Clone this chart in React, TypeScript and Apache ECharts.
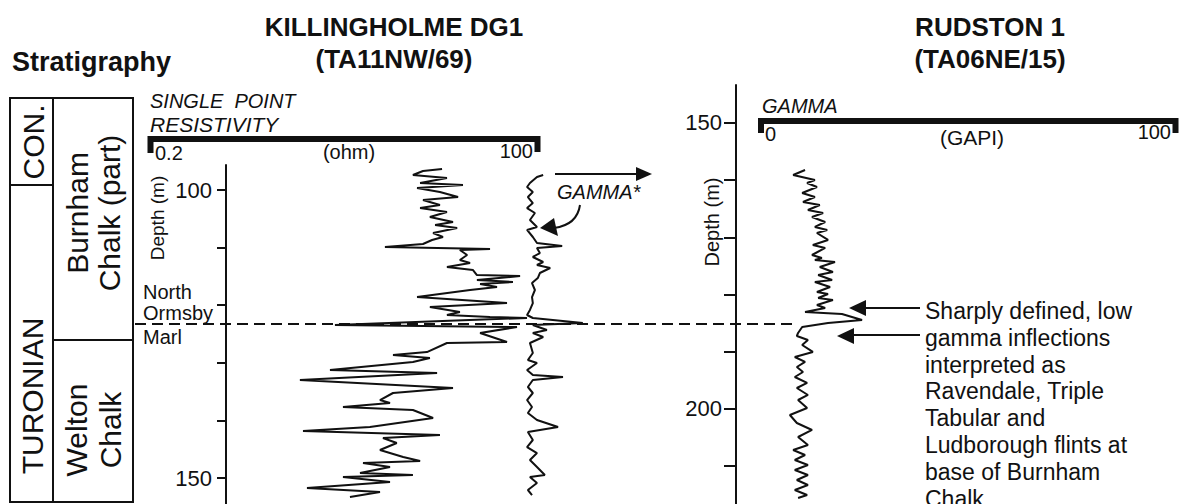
import React, { useEffect, useRef } from "react";
import * as echarts from "echarts";

// ---------- DATA ----------
// Killingholme DG1 single point resistivity (ohm) vs depth (m)
const resOhmK = [21.0, 15.5, 13.2, 22.7, 14.8, 29.3, 14.1, 20.3, 27.1, 15.5, 20.3, 14.8, 22.7, 17.3, 25.0, 18.8, 26.7, 18.2, 21.3, 17.9, 15.5, 8.45, 45.1, 27.9, 31.3, 27.9, 32.8, 22.7, 34.4, 36.6, 72.8, 36.6, 65.0, 38.5, 50.4, 32.8, 14.1, 59.1, 17.3, 27.9, 22.7, 45.1, 81.3, 3.81, 69.3, 38.5, 59.1, 22.7, 16.5, 9.61, 17.3, 13.2, 3.52, 19.4, 2.18, 25.0, 9.61, 7.81, 9.16, 4.33, 13.2, 18.2, 6.65, 2.29, 20.3, 8.19, 10.2, 7.81, 11.3, 14.8, 5.96, 9.16, 5.68, 13.2, 4.33, 9.16, 2.44, 7.81, 4.84];
const resDepthK = [96.35, 96.7, 97.4, 97.92, 98.78, 99.13, 99.65, 100.35, 101.22, 101.74, 102.6, 103.13, 103.82, 104.69, 105.56, 106.08, 106.6, 107.47, 108.16, 108.68, 109.38, 109.9, 110.24, 110.42, 111.28, 112.15, 112.67, 113.37, 113.89, 114.76, 114.93, 115.63, 115.97, 116.32, 116.84, 117.36, 118.58, 119.62, 120.31, 121.18, 121.7, 122.05, 122.22, 123.44, 123.78, 124.83, 126.39, 126.56, 128.13, 128.65, 129.17, 129.86, 131.25, 131.77, 132.99, 134.38, 135.24, 136.46, 136.98, 137.67, 138.19, 139.58, 141.15, 141.84, 142.53, 143.06, 143.92, 145.14, 146.35, 147.05, 147.4, 148.09, 149.13, 149.48, 149.83, 150.69, 151.74, 152.43, 153.3];

// Killingholme DG1 gamma* (GAPI) vs depth (m)
const gamK = [18.2, 16.7, 15.0, 14.3, 15.7, 14.5, 15.7, 14.3, 16.2, 15.0, 16.7, 14.3, 15.7, 16.7, 22.8, 16.7, 17.4, 15.7, 18.2, 16.7, 19.9, 17.4, 16.9, 15.5, 16.2, 15.5, 15.7, 15.0, 14.3, 15.7, 27.8, 15.7, 19.1, 15.7, 18.2, 15.0, 15.7, 14.5, 16.7, 14.3, 15.7, 23.0, 15.7, 14.5, 15.7, 14.3, 15.5, 14.5, 16.7, 21.8, 14.5, 15.7, 14.3, 16.7, 15.0, 16.7, 18.6, 15.0, 16.7, 14.5, 15.5];
const gamDepthK = [97.4, 97.74, 98.78, 99.48, 100.35, 101.22, 102.26, 103.13, 103.99, 105.21, 106.42, 106.94, 108.16, 109.2, 109.72, 110.07, 110.94, 111.63, 112.5, 113.02, 113.54, 114.41, 115.28, 116.15, 117.36, 118.58, 119.62, 120.83, 121.7, 122.22, 123.09, 123.44, 124.31, 124.83, 125.52, 126.56, 128.3, 129.51, 130.03, 131.25, 132.12, 132.47, 132.99, 134.2, 135.24, 136.46, 137.67, 138.72, 139.93, 141.15, 142.01, 143.4, 144.62, 145.66, 146.88, 148.09, 149.48, 149.83, 150.87, 152.08, 152.95];

// Rudston 1 gamma (GAPI) vs depth (m)
const gamR = [10.5, 7.6, 12.9, 11.0, 13.4, 9.8, 12.9, 10.0, 14.1, 11.2, 14.9, 12.2, 15.4, 12.9, 15.9, 13.4, 16.1, 12.4, 15.4, 12.2, 14.6, 12.9, 17.8, 14.1, 17.3, 13.7, 17.1, 12.9, 16.6, 13.4, 16.1, 13.7, 17.3, 13.4, 15.4, 10.5, 19.5, 24.4, 16.1, 9.8, 8.8, 8.5, 11.2, 9.8, 12.4, 8.0, 10.5, 8.5, 10.0, 8.0, 11.0, 8.5, 11.2, 8.8, 11.0, 6.8, 8.5, 12.2, 8.8, 11.2, 7.6, 10.5, 8.0, 11.2, 8.0, 11.2, 8.5, 11.2, 8.0, 11.0, 8.8];
const gamDepthR = [158.22, 159.09, 159.97, 160.49, 161.19, 162.24, 162.94, 163.81, 164.34, 165.21, 165.73, 166.43, 167.31, 168.18, 168.71, 169.23, 170.45, 171.33, 171.85, 173.08, 173.6, 173.95, 174.3, 175.17, 176.05, 176.57, 177.45, 177.8, 178.67, 179.55, 179.9, 180.59, 180.94, 181.82, 182.34, 183.04, 183.39, 184.44, 184.97, 185.66, 186.71, 187.24, 187.94, 188.81, 190.03, 190.91, 191.78, 192.66, 193.53, 194.41, 195.45, 196.33, 197.55, 198.43, 199.83, 201.05, 202.45, 203.67, 204.9, 206.29, 207.17, 208.04, 208.92, 209.79, 210.66, 211.54, 212.41, 213.29, 214.16, 215.03, 215.56];

const depthTicksK = [100, 110, 120, 130, 140, 150];
const depthLabelsK = [100, 150];
const depthTicksR = [150, 160, 170, 180, 190, 200, 210];
const depthLabelsR = [150, 200];

const depthRangeK = [95.66, 154.51];
const depthRangeR = [143.36, 216.61];
const resRange = [0.2, 100];
const gapiRange = [0, 100];

const annotationLines = [
  "Sharply defined, low",
  "gamma inflections",
  "interpreted as",
  "Ravendale, Triple",
  "Tabular and",
  "Ludborough flints at",
  "base of Burnham",
  "Chalk",
];

// ---------- CHART ----------
const FONT = "'Liberation Sans', Arial, Helvetica, sans-serif";
const INK = "#111";

function txt(x: number, y: number, text: string, o: any = {}) {
  const { rotation, ...style } = o;
  const el: any = {
    type: "text",
    x,
    y,
    z: 50,
    style: {
      text,
      fill: INK,
      fontFamily: FONT,
      fontSize: 20,
      align: "left",
      verticalAlign: "middle",
      ...style,
    },
  };
  if (rotation !== undefined) el.rotation = rotation;
  return el;
}

function seg(x1: number, y1: number, x2: number, y2: number, w = 2, extra: any = {}) {
  return {
    type: "line",
    z: 40,
    shape: { x1, y1, x2, y2 },
    style: { stroke: INK, lineWidth: w, ...extra },
  };
}

function head(pts: number[][]) {
  return { type: "polygon", z: 41, shape: { points: pts }, style: { fill: INK } };
}

export default function App() {
  const ref = useRef<HTMLDivElement>(null);

  useEffect(() => {
    if (!ref.current) return;
    const chart = echarts.init(ref.current, undefined, { renderer: "svg" });

    const hiddenY = (gi: number, range: number[]) => ({
      gridIndex: gi,
      type: "value",
      inverse: true,
      min: range[0],
      max: range[1],
      show: false,
      splitLine: { show: false },
    });

    const depthAxis = (gi: number, range: number[], ticks: number[], labels: number[], tickLen: number) => ({
      gridIndex: gi,
      type: "value",
      inverse: true,
      min: range[0],
      max: range[1],
      position: "left",
      axisLine: { show: true, lineStyle: { color: INK, width: 2 } },
      axisTick: { show: true, customValues: ticks, length: tickLen, lineStyle: { color: INK, width: 2 } },
      axisLabel: { show: true, customValues: labels, color: INK, fontSize: 22, fontFamily: FONT, margin: 14 },
      splitLine: { show: false },
    });

    const lineSeries = (xi: number, xs: number[], ds: number[]) => ({
      type: "line",
      xAxisIndex: xi,
      yAxisIndex: xi,
      data: xs.map((v, i) => [v, ds[i]]),
      showSymbol: false,
      symbol: "none",
      silent: true,
      lineStyle: { color: INK, width: 2 },
      z: 10,
    });

    const graphic: any[] = [
      // titles
      txt(12, 62, "Stratigraphy", { fontSize: 27, fontWeight: "bold" }),
      txt(394, 27, "KILLINGHOLME DG1", { fontSize: 26, fontWeight: "bold", align: "center" }),
      txt(394, 59, "(TA11NW/69)", { fontSize: 26, fontWeight: "bold", align: "center" }),
      txt(990, 27, "RUDSTON 1", { fontSize: 26, fontWeight: "bold", align: "center" }),
      txt(990, 59, "(TA06NE/15)", { fontSize: 26, fontWeight: "bold", align: "center" }),

      // stratigraphy column
      { type: "rect", z: 40, shape: { x: 10, y: 98, width: 123, height: 404 }, style: { stroke: INK, fill: "none", lineWidth: 2 } },
      seg(53, 98, 53, 502),
      seg(10, 185, 53, 185),
      seg(53, 340, 133, 340),
      txt(33, 142, "CON.", { fontSize: 30, align: "center", rotation: Math.PI / 2 }),
      txt(32, 396, "TURONIAN", { fontSize: 30, align: "center", rotation: Math.PI / 2 }),
      txt(93, 213, "Burnham\nChalk (part)", { fontSize: 30, align: "center", lineHeight: 32, rotation: Math.PI / 2 }),
      txt(93, 430, "Welton\nChalk", { fontSize: 30, align: "center", lineHeight: 34, rotation: Math.PI / 2 }),
      txt(143, 292, "North"),
      txt(143, 313, "Ormsby"),
      txt(143, 337, "Marl"),

      // marker dashed line (North Ormsby Marl)
      seg(135, 324, 798, 324, 1.8, { lineDash: [11, 6] }),

      // resistivity scale
      {
        type: "polyline",
        z: 40,
        shape: { points: [[150.5, 153], [150.5, 139], [537.5, 139], [537.5, 152]] },
        style: { stroke: INK, lineWidth: 6, fill: "none" },
      },
      txt(150, 101, "SINGLE\u00a0 POINT", { fontStyle: "italic" }),
      txt(150, 124, "RESISTIVITY", { fontStyle: "italic", fontSize: 21 }),
      txt(155, 153, "0.2"),
      txt(349, 152, "(ohm)", { align: "center" }),
      txt(533, 151, "100", { align: "right" }),
      txt(157, 218, "Depth (m)", { fontSize: 19, align: "center", rotation: Math.PI / 2 }),

      // gamma* arrows (Killingholme)
      seg(555, 174, 638, 174, 2),
      head([[636, 167], [652, 174], [636, 181]]),
      txt(557, 192, "GAMMA*", { fontStyle: "italic" }),
      {
        type: "bezierCurve",
        z: 40,
        shape: { x1: 580, y1: 205, cpx1: 578, cpy1: 219, cpx2: 569, cpy2: 226, x2: 554, y2: 228 },
        style: { stroke: INK, lineWidth: 2, fill: "none" },
      },
      head([[540, 228], [554, 218], [558, 236]]),

      // Rudston gamma scale
      {
        type: "polyline",
        z: 40,
        shape: { points: [[761, 133], [761, 121], [1175.5, 121], [1175.5, 133]] },
        style: { stroke: INK, lineWidth: 6, fill: "none" },
      },
      txt(762, 106, "GAMMA", { fontStyle: "italic" }),
      txt(765, 134, "0"),
      txt(972, 137, "(GAPI)", { align: "center", fontSize: 21 }),
      txt(1171, 132, "100", { align: "right" }),
      txt(712, 222, "Depth (m)", { align: "center", rotation: Math.PI / 2 }),

      // Rudston annotation arrows
      seg(864, 308, 920, 308, 2),
      head([[849, 308], [866, 300], [866, 316]]),
      seg(852, 335, 920, 335, 2),
      head([[837, 336], [854, 328], [854, 344]]),
    ];

    annotationLines.forEach((line, i) => {
      graphic.push(txt(925, 311 + i * 26.8, line, { fontSize: 23 }));
    });

    const option: any = {
      animation: false,
      textStyle: { fontFamily: FONT },
      grid: [
        { left: 150, width: 390, top: 165, height: 339 },
        { left: 226, width: 300, top: 165, height: 339 },
        { left: 468, width: 413, top: 165, height: 339 },
        { left: 762, width: 410, top: 85, height: 419 },
        { left: 736, width: 300, top: 85, height: 419 },
      ],
      xAxis: [
        { gridIndex: 0, type: "log", logBase: 10, min: resRange[0], max: resRange[1], show: false, splitLine: { show: false } },
        { gridIndex: 1, type: "value", min: 0, max: 1, show: false, splitLine: { show: false } },
        { gridIndex: 2, type: "value", min: gapiRange[0], max: gapiRange[1], show: false, splitLine: { show: false } },
        { gridIndex: 3, type: "value", min: gapiRange[0], max: gapiRange[1], show: false, splitLine: { show: false } },
        { gridIndex: 4, type: "value", min: 0, max: 1, show: false, splitLine: { show: false } },
      ],
      yAxis: [
        hiddenY(0, depthRangeK),
        depthAxis(1, depthRangeK, depthTicksK, depthLabelsK, 9),
        hiddenY(2, depthRangeK),
        hiddenY(3, depthRangeR),
        depthAxis(4, depthRangeR, depthTicksR, depthLabelsR, 12),
      ],
      series: [
        lineSeries(0, resOhmK, resDepthK),
        lineSeries(2, gamK, gamDepthK),
        lineSeries(3, gamR, gamDepthR),
      ],
      graphic,
    };

    chart.setOption(option);
    return () => chart.dispose();
  }, []);

  return (
    <div
      ref={ref}
      style={{ position: "fixed", left: 0, top: 0, width: 1179, height: 504, background: "#fff" }}
    />
  );
}
